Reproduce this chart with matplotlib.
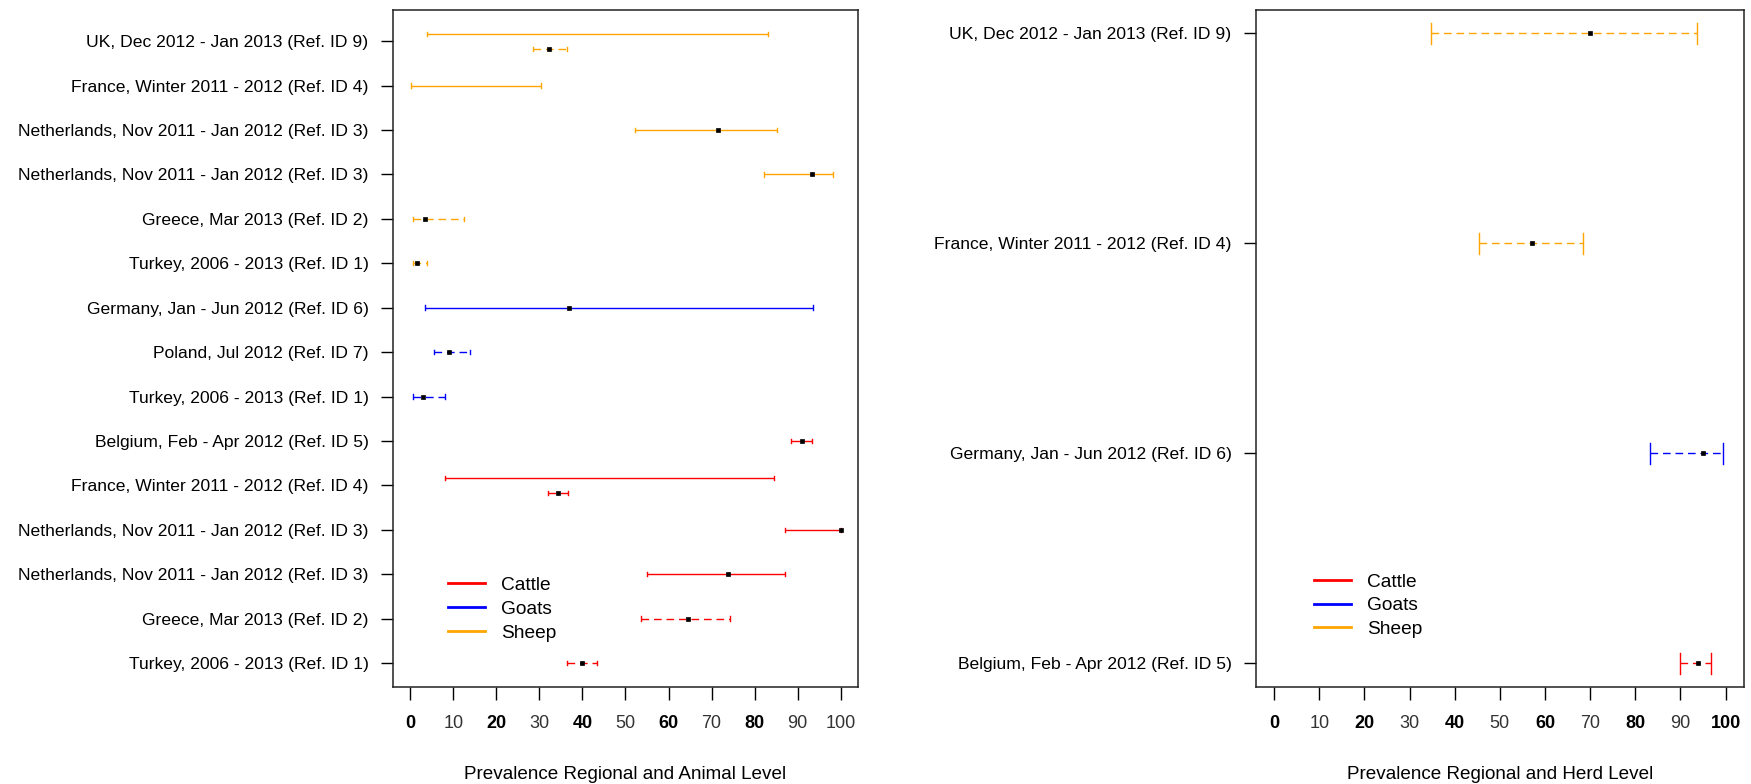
# Forest-style interval chart of prevalence estimates (animal level vs herd level)
import numpy as np
import matplotlib
matplotlib.use("Agg")
import matplotlib.pyplot as plt
from matplotlib.lines import Line2D

plt.rcParams['font.family'] = ['Liberation Sans', 'DejaVu Sans']
plt.rcParams['lines.scale_dashes'] = False

# Left panel: animal level, rows from bottom (1) to top (15)
animal_rows = ["Turkey, 2006 - 2013 (Ref. ID 1)",
               "Greece, Mar 2013 (Ref. ID 2)",
               "Netherlands, Nov 2011 - Jan 2012 (Ref. ID 3)",
               "Netherlands, Nov 2011 - Jan 2012 (Ref. ID 3)",
               "France, Winter 2011 - 2012 (Ref. ID 4)",
               "Belgium, Feb - Apr 2012 (Ref. ID 5)",
               "Turkey, 2006 - 2013 (Ref. ID 1)",
               "Poland, Jul 2012 (Ref. ID 7)",
               "Germany, Jan - Jun 2012 (Ref. ID 6)",
               "Turkey, 2006 - 2013 (Ref. ID 1)",
               "Greece, Mar 2013 (Ref. ID 2)",
               "Netherlands, Nov 2011 - Jan 2012 (Ref. ID 3)",
               "Netherlands, Nov 2011 - Jan 2012 (Ref. ID 3)",
               "France, Winter 2011 - 2012 (Ref. ID 4)",
               "UK, Dec 2012 - Jan 2013 (Ref. ID 9)"]

# one entry per interval: row number, species, group (1 = solid, 2 = dashed)
a_row     = [1, 2, 3, 4, 5, 5, 6, 7, 8, 9, 10, 11, 12, 13, 14, 15, 15]
a_species = ["Cattle", "Cattle", "Cattle", "Cattle", "Cattle", "Cattle", "Cattle",
             "Goats", "Goats", "Goats",
             "Sheep", "Sheep", "Sheep", "Sheep", "Sheep", "Sheep", "Sheep"]
a_group   = [2, 2, 1, 1, 1, 2, 1, 2, 2, 1, 2, 2, 1, 1, 1, 1, 2]
a_low     = [36.5, 53.6, 55.0, 87.0, 8.1, 32.1, 88.5, 0.6, 5.6, 3.5, 0.6, 0.6, 82.2, 52.2, 0.1, 3.8, 28.6]
a_high    = [43.5, 74.3, 87.1, 100.0, 84.4, 36.7, 93.3, 8.2, 13.8, 93.6, 3.8, 12.4, 98.1, 85.1, 30.3, 83.0, 36.5]
a_est     = [39.9, 64.5, 73.8, 100.0, np.nan, 34.4, 90.9, 2.9, 9.1, 36.9, 1.7, 3.5, 93.4, 71.4, np.nan, np.nan, 32.3]

# Right panel: herd level
herd_rows = ["Belgium, Feb - Apr 2012 (Ref. ID 5)",
             "Germany, Jan - Jun 2012 (Ref. ID 6)",
             "France, Winter 2011 - 2012 (Ref. ID 4)",
             "UK, Dec 2012 - Jan 2013 (Ref. ID 9)"]
h_species = ["Cattle", "Goats", "Sheep", "Sheep"]
h_low     = [89.8, 83.3, 45.4, 34.7]
h_high    = [96.7, 99.5, 68.4, 93.6]
h_est     = [93.8, 95.0, 57.1, 70.0]

colors = {"Cattle": "#FF0000", "Goats": "#0000FF", "Sheep": "#FFA500"}
dash = (0, (5.5, 3.5))

fig = plt.figure(figsize=(17.51, 7.84), dpi=100)
ax1 = fig.add_axes([0.2244, 0.1237, 0.2656, 0.8635])
ax2 = fig.add_axes([0.7173, 0.1237, 0.2785, 0.8635])


def draw_interval(ax, y, lo, hi, est, col, ls, cap):
    ax.plot([lo, hi], [y, y], color=col, lw=1.0, linestyle=ls, solid_capstyle='butt')
    for xx in (lo, hi):
        ax.plot([xx, xx], [y - cap, y + cap], color=col, lw=1.0)
    if not np.isnan(est):
        ax.plot(est, y, marker='s', ms=3, color='black', mec='black', mew=0.5)


# left panel: rows holding two intervals get shifted apart
counts = {r: a_row.count(r) for r in set(a_row)}
for r, sp, g, lo, hi, est in zip(a_row, a_species, a_group, a_low, a_high, a_est):
    y = r
    if counts[r] > 1:
        y = r + 0.16 if g == 1 else r - 0.175
    draw_interval(ax1, y, lo, hi, est, colors[sp], '-' if g == 1 else dash, 0.05)

for i, (sp, lo, hi, est) in enumerate(zip(h_species, h_low, h_high, h_est)):
    draw_interval(ax2, i + 1, lo, hi, est, colors[sp], dash, 0.05)

ax1.set_ylim(0.46, 15.7)
ax1.set_yticks(range(1, len(animal_rows) + 1))
ax1.set_yticklabels(animal_rows)
ax2.set_ylim(0.887, 4.11)
ax2.set_yticks(range(1, len(herd_rows) + 1))
ax2.set_yticklabels(herd_rows)

ax1.set_xlabel("Prevalence Regional and Animal Level", fontsize=13.6, labelpad=24)
ax2.set_xlabel("Prevalence Regional and Herd Level", fontsize=13.6, labelpad=24)

handles = [Line2D([], [], color=colors[k], lw=2) for k in colors]
xt = list(range(0, 101, 10))
for ax, anchor, nbold in ((ax1, 0.163, 5), (ax2, 0.168, 6)):
    ax.set_xlim(-4, 104)
    ax.set_xticks(xt)
    ax.set_xticklabels([str(v) for v in xt])
    # some tick labels come out heavier, as in the original
    for k, lab in enumerate(ax.get_xticklabels()):
        if k % 2 == 0 and k // 2 < nbold:
            lab.set_fontweight('bold')
        else:
            lab.set_color('#333333')
    ax.tick_params(axis='x', length=9.5, pad=11, labelsize=13, width=1)
    ax.tick_params(axis='y', length=9, pad=8.5, labelsize=12.6, width=1)
    for s in ax.spines.values():
        s.set_linewidth(1.1)
        s.set_color('#222222')
    ax.legend(handles, list(colors), loc='upper left', bbox_to_anchor=(0.118, anchor),
              frameon=False, fontsize=13.8, handlelength=1.93, handletextpad=0.85,
              labelspacing=0.33, borderpad=0, borderaxespad=0)

fig.savefig("out.png", dpi=100)
